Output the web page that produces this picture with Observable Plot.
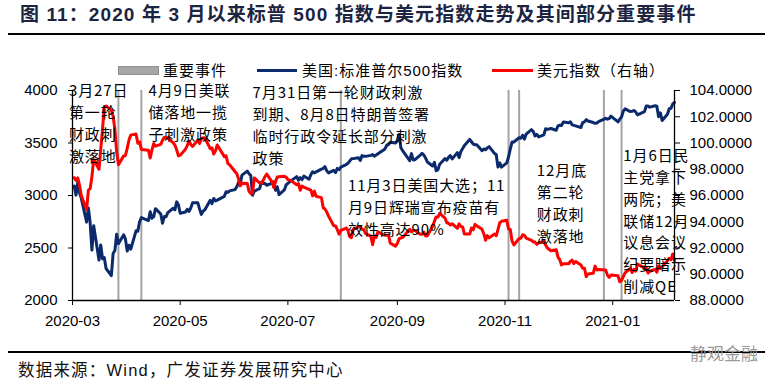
<!DOCTYPE html>
<html><head><meta charset="utf-8">
<script src="https://cdn.jsdelivr.net/npm/d3@7"></script>
<script src="https://cdn.jsdelivr.net/npm/@observablehq/plot@0.6"></script>
<style>
body{margin:0;background:#fff;}
#wrap{position:relative;width:765px;height:390px;overflow:hidden;background:#fff;font-family:"Liberation Sans","Noto Sans CJK SC",sans-serif;}
#title{position:absolute;left:20px;top:5px;font-size:19px;font-weight:bold;color:#1b2440;letter-spacing:1.1px;white-space:nowrap;line-height:1;}
.hr{position:absolute;left:8px;right:0;height:2px;background:#000;}
#chart{position:absolute;left:0;top:36px;}
.leg{position:absolute;font-size:15px;color:#000;white-space:nowrap;line-height:1;letter-spacing:1px;font-family:"Liberation Sans","Noto Sans CJK SC",sans-serif;}
.sw{position:absolute;}
#foot{position:absolute;left:18px;top:362px;font-size:16.5px;color:#111;letter-spacing:1.2px;white-space:nowrap;line-height:1;}
#wm{position:absolute;left:690px;top:346px;font-size:17px;color:#9a9a9a;white-space:nowrap;line-height:1;}
#chart g[aria-label="text"] text{letter-spacing:0.9px;}
</style></head>
<body>
<div id="wrap">
  <div id="title">图 11：2020 年 3 月以来标普 500 指数与美元指数走势及其间部分重要事件</div>
  <div class="hr" style="top:33px"></div>
  <div id="chart"></div>
  <div class="sw" style="left:118px;top:66px;width:39px;height:7px;background:#a6a6a6;border:1px solid #8f8f8f"></div>
  <div class="leg" style="left:163px;top:63px">重要事件</div>
  <div class="sw" style="left:257px;top:68.5px;width:40px;height:3px;background:#0b2a6b"></div>
  <div class="leg" style="left:302px;top:63px">美国:标准普尔500指数</div>
  <div class="sw" style="left:492px;top:68.5px;width:41px;height:3px;background:#ff0000"></div>
  <div class="leg" style="left:537px;top:63px">美元指数（右轴）</div>
  <div class="hr" style="top:351px"></div>
  <div id="foot">数据来源：Wind，广发证券发展研究中心</div>
  <div id="wm">静观金融</div>
</div>
<script>
// ---- data ----
const dates = [
"2020-03-02","2020-03-03","2020-03-04","2020-03-05","2020-03-06","2020-03-09","2020-03-10","2020-03-11","2020-03-12","2020-03-13","2020-03-16","2020-03-17","2020-03-18","2020-03-19","2020-03-20","2020-03-23","2020-03-24","2020-03-25","2020-03-26","2020-03-27","2020-03-30","2020-03-31",
"2020-04-01","2020-04-02","2020-04-03","2020-04-06","2020-04-07","2020-04-08","2020-04-09","2020-04-13","2020-04-14","2020-04-15","2020-04-16","2020-04-17","2020-04-20","2020-04-21","2020-04-22","2020-04-23","2020-04-24","2020-04-27","2020-04-28","2020-04-29","2020-04-30",
"2020-05-01","2020-05-04","2020-05-05","2020-05-06","2020-05-07","2020-05-08","2020-05-11","2020-05-12","2020-05-13","2020-05-14","2020-05-15","2020-05-18","2020-05-19","2020-05-20","2020-05-21","2020-05-22","2020-05-26","2020-05-27","2020-05-28","2020-05-29",
"2020-06-01","2020-06-02","2020-06-03","2020-06-04","2020-06-05","2020-06-08","2020-06-09","2020-06-10","2020-06-11","2020-06-12","2020-06-15","2020-06-16","2020-06-17","2020-06-18","2020-06-19","2020-06-22","2020-06-23","2020-06-24","2020-06-25","2020-06-26","2020-06-29","2020-06-30",
"2020-07-01","2020-07-02","2020-07-06","2020-07-07","2020-07-08","2020-07-09","2020-07-10","2020-07-13","2020-07-14","2020-07-15","2020-07-16","2020-07-17","2020-07-20","2020-07-21","2020-07-22","2020-07-23","2020-07-24","2020-07-27","2020-07-28","2020-07-29","2020-07-30","2020-07-31",
"2020-08-03","2020-08-04","2020-08-05","2020-08-06","2020-08-07","2020-08-10","2020-08-11","2020-08-12","2020-08-13","2020-08-14","2020-08-17","2020-08-18","2020-08-19","2020-08-20","2020-08-21","2020-08-24","2020-08-25","2020-08-26","2020-08-27","2020-08-28","2020-08-31",
"2020-09-01","2020-09-02","2020-09-03","2020-09-04","2020-09-08","2020-09-09","2020-09-10","2020-09-11","2020-09-14","2020-09-15","2020-09-16","2020-09-17","2020-09-18","2020-09-21","2020-09-22","2020-09-23","2020-09-24","2020-09-25","2020-09-28","2020-09-29","2020-09-30",
"2020-10-01","2020-10-02","2020-10-05","2020-10-06","2020-10-07","2020-10-08","2020-10-09","2020-10-12","2020-10-13","2020-10-14","2020-10-15","2020-10-16","2020-10-19","2020-10-20","2020-10-21","2020-10-22","2020-10-23","2020-10-26","2020-10-27","2020-10-28","2020-10-29","2020-10-30",
"2020-11-02","2020-11-03","2020-11-04","2020-11-05","2020-11-06","2020-11-09","2020-11-10","2020-11-11","2020-11-12","2020-11-13","2020-11-16","2020-11-17","2020-11-18","2020-11-19","2020-11-20","2020-11-23","2020-11-24","2020-11-25","2020-11-27","2020-11-30",
"2020-12-01","2020-12-02","2020-12-03","2020-12-04","2020-12-07","2020-12-08","2020-12-09","2020-12-10","2020-12-11","2020-12-14","2020-12-15","2020-12-16","2020-12-17","2020-12-18","2020-12-21","2020-12-22","2020-12-23","2020-12-24","2020-12-28","2020-12-29","2020-12-30","2020-12-31",
"2021-01-04","2021-01-05","2021-01-06","2021-01-07","2021-01-08","2021-01-11","2021-01-12","2021-01-13","2021-01-14","2021-01-15","2021-01-19","2021-01-20","2021-01-21","2021-01-22","2021-01-25","2021-01-26","2021-01-27","2021-01-28","2021-01-29",
"2021-02-01","2021-02-02","2021-02-03","2021-02-04","2021-02-05"
];
const spx = [
3090.23,3003.37,3130.12,3023.94,2972.37,2746.56,2882.23,2741.38,2480.64,2711.02,2386.13,2529.19,2398.10,2409.39,2304.92,2237.40,2447.33,2475.56,2630.07,2541.47,2626.65,2584.59,
2470.50,2526.90,2488.65,2663.68,2659.41,2749.98,2789.82,2761.63,2846.06,2783.36,2799.55,2874.56,2823.16,2736.56,2799.31,2797.80,2836.74,2878.48,2863.39,2939.51,2912.43,
2830.71,2842.74,2868.44,2848.42,2881.19,2929.80,2930.32,2870.12,2820.00,2852.50,2863.70,2953.91,2922.94,2971.61,2948.51,2955.45,2991.77,3036.13,3029.73,3044.31,
3055.73,3080.82,3122.87,3112.35,3193.93,3232.39,3207.18,3190.14,3002.10,3041.31,3066.59,3124.74,3113.49,3115.34,3097.74,3117.86,3131.29,3050.33,3083.76,3009.05,3053.24,3100.29,
3115.86,3130.01,3179.72,3145.32,3169.94,3152.05,3185.04,3155.22,3197.52,3226.56,3215.57,3224.73,3251.84,3257.30,3276.02,3235.66,3215.63,3239.41,3218.44,3258.44,3246.22,3271.12,
3294.61,3306.51,3327.77,3349.16,3351.28,3360.47,3333.69,3380.35,3373.43,3372.85,3381.99,3389.78,3374.85,3385.51,3397.16,3431.28,3443.62,3478.73,3484.55,3508.01,3500.31,
3526.65,3580.84,3455.06,3426.96,3331.84,3398.96,3339.19,3340.97,3383.54,3401.20,3385.49,3357.01,3319.47,3281.06,3315.57,3236.92,3246.59,3298.46,3351.60,3335.47,3363.00,
3380.80,3348.42,3408.60,3360.97,3419.44,3446.83,3477.14,3534.22,3511.93,3488.67,3483.34,3483.81,3426.92,3443.12,3435.56,3453.49,3465.39,3400.97,3390.68,3271.03,3310.11,3269.96,
3310.24,3369.16,3443.44,3510.45,3509.44,3550.50,3545.53,3572.66,3537.01,3585.15,3626.91,3609.53,3567.79,3581.87,3557.54,3577.59,3635.41,3629.65,3638.35,3621.63,
3662.45,3669.01,3666.72,3699.12,3691.96,3702.25,3672.82,3668.10,3663.46,3647.49,3694.62,3701.17,3722.48,3709.41,3694.92,3687.26,3690.01,3703.06,3735.36,3727.04,3732.04,3756.07,
3700.65,3726.86,3748.14,3803.79,3824.68,3799.61,3801.19,3809.84,3795.54,3768.25,3798.91,3851.85,3853.07,3841.47,3855.36,3849.62,3750.77,3787.38,3714.24,
3773.86,3826.31,3830.17,3871.74,3886.83
];
const dxy = [
97.36,97.15,97.34,96.78,95.97,94.93,96.41,96.52,97.44,98.75,98.00,99.52,101.06,102.75,102.82,102.50,102.04,101.07,99.35,98.35,99.02,99.05,
99.61,100.23,100.60,100.68,99.98,100.08,99.51,99.45,98.86,99.47,99.96,99.76,99.89,100.22,100.43,100.42,100.37,100.02,99.85,99.48,99.02,
99.07,99.53,99.80,100.14,99.90,99.74,100.22,99.96,100.32,100.40,100.38,99.57,99.62,99.15,99.41,99.85,98.96,99.02,98.44,98.34,
97.83,97.67,97.30,96.74,96.93,96.92,96.31,96.14,96.20,97.34,96.95,96.93,97.14,97.43,97.64,97.04,96.61,97.05,97.41,97.43,97.46,97.39,
97.21,97.19,96.82,96.91,96.40,96.71,96.64,96.47,96.41,95.97,96.33,95.94,95.84,95.06,94.98,94.74,94.44,93.69,93.68,93.40,93.05,93.35,
93.52,93.35,92.87,92.79,93.43,93.61,93.63,93.42,93.38,93.09,92.90,92.25,92.92,92.81,93.24,93.00,92.98,92.97,92.99,92.37,92.14,
92.35,92.70,92.77,92.80,93.43,93.23,93.35,93.33,93.05,93.04,93.21,92.92,92.94,93.66,94.03,94.37,94.36,94.64,94.28,93.92,93.89,
93.75,93.85,93.50,93.84,93.64,93.61,93.06,93.06,93.53,93.39,93.80,93.69,93.42,93.07,92.59,92.95,92.77,93.06,92.93,93.40,93.91,94.04,
94.11,93.45,93.41,92.52,92.23,92.73,92.75,93.01,92.96,92.76,92.58,92.46,92.45,92.28,92.39,92.50,92.22,92.00,91.79,91.87,
91.31,91.11,90.71,90.80,90.80,90.97,91.08,90.81,90.97,90.70,90.45,90.46,89.82,90.02,90.08,90.62,90.33,90.36,90.32,89.94,89.76,89.94,
89.88,89.43,89.53,89.82,90.10,90.45,90.13,90.38,90.23,90.77,90.49,90.47,90.09,90.23,90.37,90.16,90.62,90.44,90.58,
91.03,91.22,91.11,91.54,91.04
];
const eventDates = ["2020-03-27","2020-04-09","2020-07-31","2020-11-03","2020-11-09","2020-12-27","2021-01-06"];
const leftTicks = [2000,2500,3000,3500,4000];
const rightTicks = [88,90,92,94,96,98,100,102,104];
const xTickLabels = ["2020-03-01","2020-05-01","2020-07-01","2020-09-01","2020-11-01","2021-01-01"];
const annoDates = ["2020-02-28","2020-04-13","2020-06-11","2020-08-04","2020-11-19","2021-01-07"];
const annoLevels = [4092,4092,4073,3187,3330,3473];
const annoTexts = [
  "3月27日\n第一轮\n财政刺\n激落地",
  "4月9日美联\n储落地一揽\n子刺激政策",
  "7月31日第一轮财政刺激\n到期、8月8日特朗普签署\n临时行政令延长部分刺激\n政策",
  "11月3日美国大选；11\n月9日辉瑞宣布疫苗有\n效性高达90%",
  "12月底\n第二轮\n财政刺\n激落地",
  "1月6日民\n主党拿下\n两院；美\n联储12月\n议息会议\n纪要暗示\n削减QE"
];

if (dates.length !== spx.length || dates.length !== dxy.length) console.error("length mismatch", dates.length, spx.length, dxy.length);

const rows = dates.map((d, i) => ({date: new Date(d), spx: spx[i], dxy: dxy[i]}));
const annos = annoTexts.map((t, i) => ({date: new Date(annoDates[i]), level: annoLevels[i], text: t}));
// right axis (88–104) mapped onto left scale (2000–4000)
const toLeft = v => 2000 + (v - 88) * 125;
const fromLeft = y => (y - 2000) / 125 + 88;
const xStart = new Date("2020-03-01"), xEnd = new Date("2021-02-05");

const chart = Plot.plot({
  width: 765, height: 300,
  marginLeft: 72, marginRight: 91, marginTop: 54, marginBottom: 36,
  style: {fontFamily: "'Liberation Sans','Noto Sans CJK SC',sans-serif", fontSize: "15px", color: "#000", background: "transparent", overflow: "visible"},
  x: {type: "utc", domain: [xStart, xEnd]},
  y: {domain: [2000, 4000]},
  marks: [
    Plot.ruleX(eventDates.map(d => new Date(d)), {stroke: "#a3a3a3", strokeWidth: 2}),
    Plot.line(rows, {x: "date", y: "spx", stroke: "#0b2a6b", strokeWidth: 3, strokeLinejoin: "round"}),
    Plot.line(rows, {x: "date", y: d => toLeft(d.dxy), stroke: "#ff0000", strokeWidth: 3, strokeLinejoin: "round"}),
    Plot.ruleY([2000], {stroke: "#000", strokeWidth: 1.3}),
    Plot.ruleX([xStart, xEnd], {stroke: "#000", strokeWidth: 1.3}),
    Plot.axisY({anchor: "left", ticks: leftTicks, tickSize: 4, tickPadding: 11, label: null, tickFormat: d => String(d)}),
    Plot.axisY({anchor: "right", ticks: rightTicks.map(toLeft), tickSize: 5, tickPadding: 10, label: null, tickFormat: d => fromLeft(d).toFixed(4)}),
    Plot.axisX({ticks: xTickLabels.map(d => new Date(d)), tickSize: 5, tickPadding: 10, label: null, tickFormat: d3.utcFormat("%Y-%m")}),
    Plot.text(annos, {x: "date", y: "level", text: "text", textAnchor: "start", lineAnchor: "top", fontSize: 15, lineHeight: 1.45, fill: "#000", fontFamily: "'Noto Sans CJK SC',sans-serif"})
  ]
});
document.getElementById("chart").appendChild(chart);
</script>
</body></html>
